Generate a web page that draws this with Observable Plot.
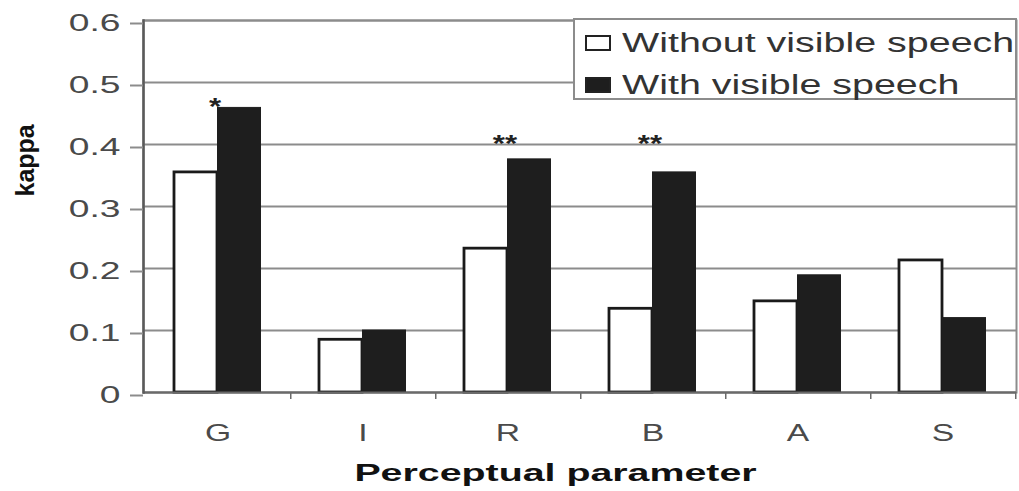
<!DOCTYPE html>
<html>
<head>
<meta charset="utf-8">
<script src="https://cdn.jsdelivr.net/npm/d3@7"></script>
<script src="https://cdn.jsdelivr.net/npm/@observablehq/plot@0.6"></script>
<style>
  html, body { margin: 0; padding: 0; background: #fff; }
  #wrap { position: relative; width: 1019px; height: 491px; font-family: "Liberation Sans", Arial, sans-serif; }
  .legend { position: absolute; left: 573px; top: 18px; width: 440px; height: 78px; border: 2px solid #8c8c8c; background: #fff; }
  .item { position: absolute; left: 10px; height: 30px; display: flex; align-items: center; }
  .sw { width: 22px; height: 12px; border: 2.5px solid #222; box-sizing: content-box; }
  .lab { margin-left: 11px; font-size: 27px; color: #333; display: inline-block; transform: scaleX(1.46); transform-origin: left center; white-space: nowrap; }
</style>
</head>
<body>
<div id="wrap"></div>
<script>
// ---- data ----
const categories = ["G", "I", "R", "B", "A", "S"];
const seriesNames = ["Without visible speech", "With visible speech"];
const withoutVisible = [0.355, 0.085, 0.232, 0.135, 0.147, 0.213];
const withVisible = [0.459, 0.100, 0.376, 0.355, 0.189, 0.120];
const sigCategories = ["G", "R", "B"];
const sigMarks = ["*", "**", "**"];
const sigLevel = [0.46, 0.40, 0.40];
const yTicks = [0, 0.1, 0.2, 0.3, 0.4, 0.5, 0.6];
const xTitle = "Perceptual parameter";
const yTitle = "kappa";

const rowsWithout = categories.map((c, i) => ({cat: c, v: withoutVisible[i], series: seriesNames[0]}));
const rowsWith = categories.map((c, i) => ({cat: c, v: withVisible[i], series: seriesNames[1]}));
const sigRows = sigCategories.map((c, i) => ({cat: c, mark: sigMarks[i], y: sigLevel[i]}));

const plot = Plot.plot({
  width: 1019,
  height: 491,
  marginLeft: 143,
  marginRight: 3,
  marginTop: 20,
  marginBottom: 99,
  style: {fontFamily: "'Liberation Sans', Arial, sans-serif", background: "white", overflow: "visible"},
  x: {type: "band", domain: categories, paddingInner: 0, paddingOuter: 0},
  y: {domain: [0, 0.6]},
  marks: [
    Plot.ruleY(yTicks, {stroke: "#8c8c8c", strokeWidth: 2}),
    Plot.frame({stroke: "#8c8c8c", strokeWidth: 2}),
    Plot.barY(rowsWithout, {x: "cat", y: "v", fill: "white", stroke: "#1a1a1a", strokeWidth: 2.8, insetLeft: 29, insetRight: 73}),
    Plot.barY(rowsWith, {x: "cat", y: "v", fill: "#1e1e1e", stroke: "#1e1e1e", strokeWidth: 1, insetLeft: 72.5, insetRight: 29.5}),
    Plot.ruleY([0], {stroke: "#6a6a6a", strokeWidth: 2}),
    Plot.frame({anchor: "left", stroke: "#5a5a5a", strokeWidth: 2.5}),
    Plot.ruleX(categories, {x: d => d, dx: 72.75, y1: 0, y2: 0, insetBottom: -7, stroke: "#6a6a6a", strokeWidth: 1.5}),
    Plot.axisY({ticks: yTicks, tickSize: 13, tickPadding: 10, tickFormat: d => d === 0 ? "0" : d.toFixed(1),
      fontSize: 24, fill: "#4a4a4a", stroke: "#8c8c8c", strokeWidth: 2, dy: 3, label: null}),
    Plot.axisX({tickSize: 0, tickPadding: 31, fontSize: 24, fill: "#4a4a4a", label: null}),
    Plot.text(sigRows, {x: "cat", y: "y", text: "mark", fontSize: 24, fontWeight: "bold", fill: "#222", lineAnchor: "middle", dx: -3}),
    Plot.text([yTitle], {frameAnchor: "left", rotate: -90, dx: -118, dy: -10, fontSize: 25, fontWeight: "bold", fill: "#111", lineAnchor: "middle"}),
    Plot.text([xTitle], {frameAnchor: "bottom", dx: -24.5, dy: 81, fontSize: 23, fontWeight: "bold", fill: "#111", lineAnchor: "middle"})
  ]
});

const wrap = document.getElementById("wrap");
wrap.appendChild(plot);

function stretchText(test, k) {
  plot.querySelectorAll("text").forEach(t => {
    if (!test(t.textContent)) return;
    const L = t.getComputedTextLength();
    if (L > 0) {
      t.setAttribute("textLength", L * k);
      t.setAttribute("lengthAdjust", "spacingAndGlyphs");
    }
  });
}
const yLabels = yTicks.map(d => d === 0 ? "0" : d.toFixed(1));
stretchText(s => yLabels.includes(s), 1.55);
stretchText(s => categories.includes(s), 1.4);
stretchText(s => sigMarks.includes(s), 1.3);
stretchText(s => s === xTitle, 1.71);

// legend (inside plot area, top right)
const legend = document.createElement("div");
legend.className = "legend";
const fills = ["#fff", "#1e1e1e"];
const tops = [8, 50];
seriesNames.forEach((name, i) => {
  const item = document.createElement("div");
  item.className = "item";
  item.style.top = tops[i] + "px";
  const sw = document.createElement("span");
  sw.className = "sw";
  sw.style.background = fills[i];
  const lab = document.createElement("span");
  lab.className = "lab";
  lab.textContent = name;
  item.appendChild(sw);
  item.appendChild(lab);
  legend.appendChild(item);
});
wrap.appendChild(legend);
</script>
</body>
</html>
